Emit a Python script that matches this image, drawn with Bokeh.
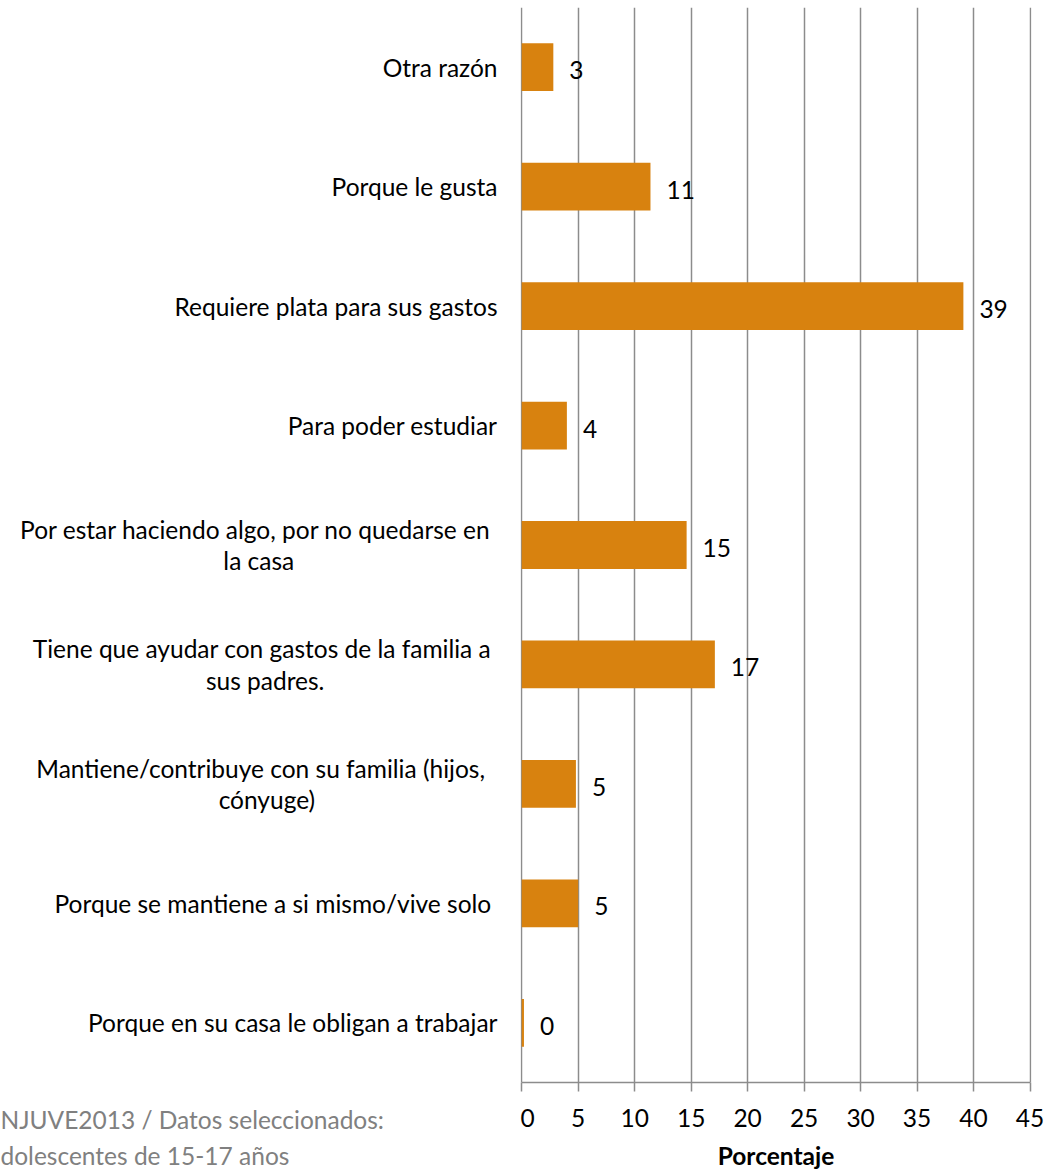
from bokeh.plotting import figure
from bokeh.models import Range1d, FixedTicker, Label, Title
from bokeh.layouts import row
from bokeh.core.properties import value
from bokeh.embed import file_html
from bokeh.resources import INLINE

# categories from bottom to top
categories = [
    "Porque en su casa le obligan a trabajar",
    "Porque se  mantiene a si mismo/vive solo",
    "Mantiene/contribuye con su  familia (hijos, \ncónyuge)",
    "Tiene que ayudar con gastos de la familia a \nsus padres.",
    "Por estar haciendo algo, por no quedarse en \nla casa",
    "Para poder estudiar",
    "Requiere plata para sus gastos",
    "Porque le gusta",
    "Otra razón",
]
values = [0.2, 5.0, 4.8, 17.1, 14.6, 4.0, 39.1, 11.4, 2.8]
value_labels = [f"{v:.0f}" for v in values]
x_ticks = [0, 5, 10, 15, 20, 25, 30, 35, 40, 45]
x_title = "Porcentaje"
source_lines = ["NJUVE2013 / Datos seleccionados:", "dolescentes de 15-17 años"]

FONT = "Lato"
FS = "24.5px"
BAR = "#D8820F"
GRID = "#8C8C8C"
N = len(categories)
ypos = [i + 0.5 for i in range(N)]

TOP, BOTTOM = 7, 89

# ---------------- chart (right) ----------------
p = figure(width=533, height=1172, output_backend="svg", toolbar_location=None,
           x_range=Range1d(-0.106, 45.13), y_range=Range1d(0, N),
           y_axis_location=None,
           min_border_left=0, min_border_right=22, min_border_top=TOP, min_border_bottom=BOTTOM)
p.outline_line_color = None
p.background_fill_color = "white"
p.border_fill_color = "white"

p.hbar(y=ypos, right=values, left=0, height=0.4, color=BAR, line_color=None)
p.text(x=values, y=ypos, text=value_labels, x_offset=16, y_offset=3,
       text_align="left", text_baseline="middle", text_font=value(FONT),
       text_font_size=FS, text_color="black")

p.xaxis.ticker = FixedTicker(ticks=x_ticks)
p.xaxis.bounds = (0, 45)
p.xaxis.axis_label = x_title
p.xaxis.axis_label_text_font = FONT
p.xaxis.axis_label_text_font_size = FS
p.xaxis.axis_label_text_font_style = "bold"
p.xaxis.axis_label_text_color = "black"
p.xaxis.axis_label_standoff = 11
p.xaxis.major_label_text_font = FONT
p.xaxis.major_label_text_font_size = FS
p.xaxis.major_label_text_color = "black"
p.xaxis.major_label_standoff = 17
p.xaxis.major_tick_in = 0
p.xaxis.major_tick_out = 9
p.xaxis.minor_tick_line_color = None
p.xaxis.axis_line_color = GRID
p.xaxis.axis_line_width = 1.5
p.xaxis.major_tick_line_color = GRID
p.xaxis.major_tick_line_width = 1.5

p.xgrid.ticker = FixedTicker(ticks=x_ticks)
p.xgrid.grid_line_color = GRID
p.xgrid.grid_line_width = 1.5
p.ygrid.grid_line_color = None

# ---------------- category labels and source (left) ----------------
q = figure(width=520, height=1172, output_backend="svg", toolbar_location=None,
           x_range=Range1d(0, 520), y_range=Range1d(0, N),
           x_axis_location=None, y_axis_location=None,
           min_border_left=0, min_border_right=0, min_border_top=TOP, min_border_bottom=BOTTOM)
q.outline_line_color = None
q.xgrid.grid_line_color = None
q.ygrid.grid_line_color = None
q.background_fill_color = "white"
q.border_fill_color = "white"

for cat, y in zip(categories, ypos):
    q.add_layout(Label(x=497, y=y, x_units="data", y_units="data", text=cat,
                       anchor="center_right", text_align="center",
                       text_font=FONT, text_font_size=FS, text_color="black",
                       text_line_height=1.09))

for line, so in zip(source_lines, [40, -30]):
    q.add_layout(Title(text=line, align="left", offset=0, standoff=so,
                       text_font=FONT, text_font_size=FS, text_font_style="normal",
                       text_color="#808080"), "below")

layout = row(q, p, spacing=0)
open("out.html", "w").write(file_html(layout, INLINE))
